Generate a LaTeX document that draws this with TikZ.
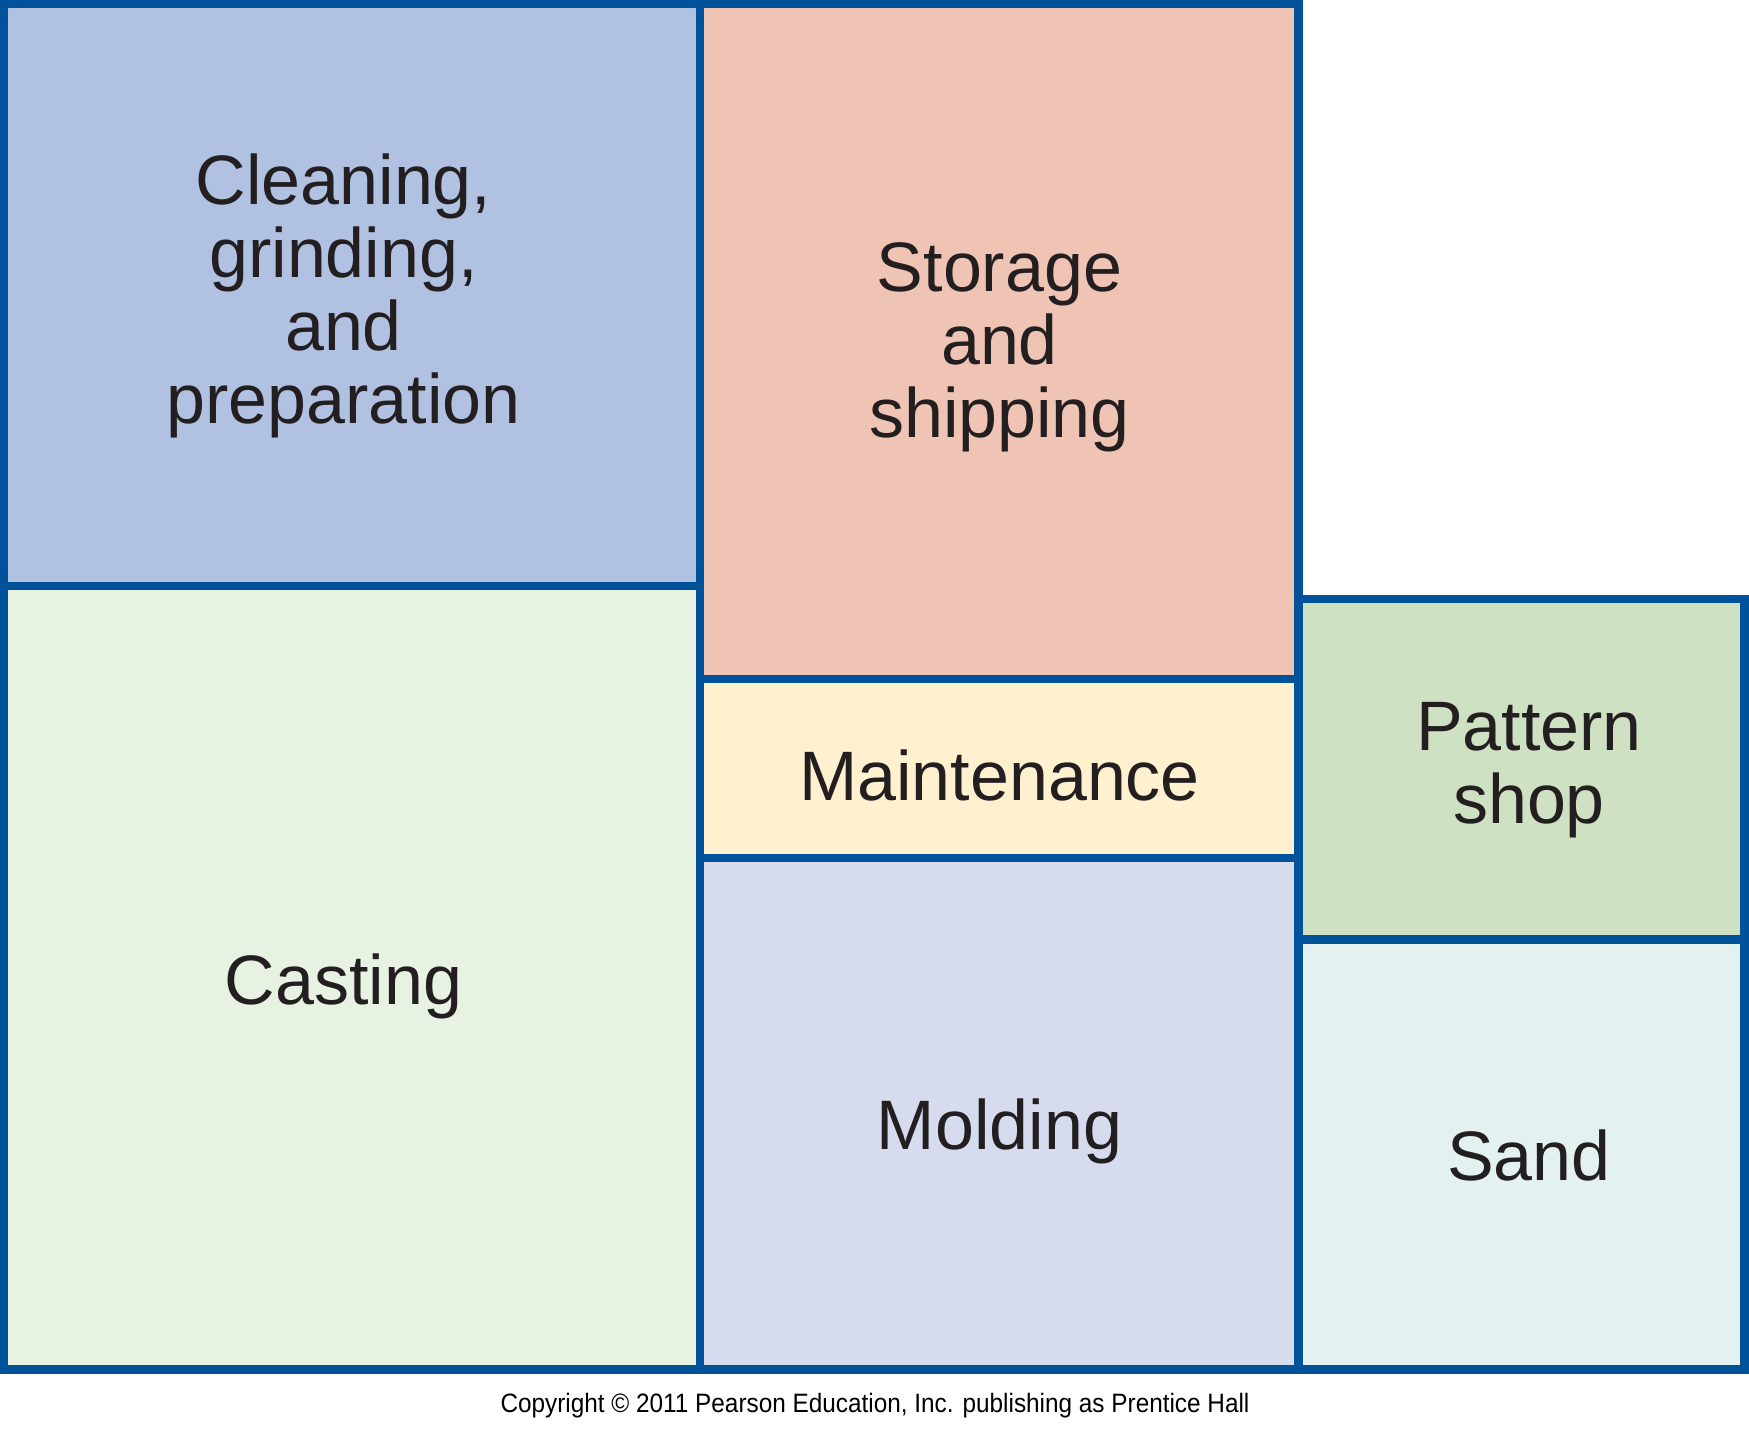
\documentclass[tikz,border=0pt]{standalone}
\usepackage{fontspec}
\setmainfont{Liberation Sans}
\newfontfamily\copyfont[FakeStretch=0.915]{Liberation Sans}
\definecolor{bordercol}{RGB}{0,82,155}
\definecolor{cleancol}{RGB}{176,193,225}
\definecolor{castcol}{RGB}{232,242,226}
\definecolor{storecol}{RGB}{240,196,180}
\definecolor{maintcol}{RGB}{255,240,207}
\definecolor{moldcol}{RGB}{214,220,238}
\definecolor{patcol}{RGB}{207,225,195}
\definecolor{sandcol}{RGB}{227,241,240}
\definecolor{txtcol}{RGB}{35,31,32}
\begin{document}
\begin{tikzpicture}[x=0.5pt,y=-0.5pt,
  wall/.style={draw=bordercol,line width=4.4pt},
  roomtext/.style={text=txtcol,font=\fontsize{35}{36.5}\selectfont,align=center,inner sep=0pt,anchor=base}]
\useasboundingbox (0,0) rectangle (1749,1438);
% fills
\fill[cleancol] (4,4) rectangle (700,586);
\fill[castcol] (4,586) rectangle (700,1369.5);
\fill[storecol] (700,4) rectangle (1298.5,679);
\fill[maintcol] (700,679) rectangle (1298.5,858);
\fill[moldcol] (700,858) rectangle (1298.5,1369.5);
\fill[patcol] (1298.5,599) rectangle (1744.5,939.5);
\fill[sandcol] (1298.5,939.5) rectangle (1744.5,1369.5);
% walls
\draw[wall] (4,4) -- (1298.5,4) -- (1298.5,599) -- (1744.5,599) -- (1744.5,1369.5) -- (4,1369.5) -- cycle;
\draw[wall] (4,586) -- (700,586);
\draw[wall] (700,4) -- (700,1369.5);
\draw[wall] (700,679) -- (1298.5,679);
\draw[wall] (700,858) -- (1298.5,858);
\draw[wall] (1298.5,599) -- (1298.5,1369.5);
\draw[wall] (1298.5,939.5) -- (1744.5,939.5);
% texts (base anchor = baseline of last line)
\node[roomtext] (clean) at (343.5,424) {Cleaning,\\grinding,\\and\\preparation};
\node[roomtext] (store) at (999.5,438) {Storage\\and\\shipping};
\node[roomtext] (maint) at (999.5,800) {Maintenance};
\node[roomtext] (cast) at (343.5,1004) {Casting};
\node[roomtext] (mold) at (999.5,1149) {Molding};
\node[roomtext] (pattern) at (1529,823) {Pattern\\shop};
\node[roomtext] (sand) at (1529,1180) {Sand};
\node[font=\copyfont\fontsize{13.3}{16}\selectfont,inner sep=0pt,anchor=base] (copy) at (875,1412) {Copyright © 2011 Pearson Education, Inc. publishing as Prentice Hall};
\end{tikzpicture}
\end{document}
